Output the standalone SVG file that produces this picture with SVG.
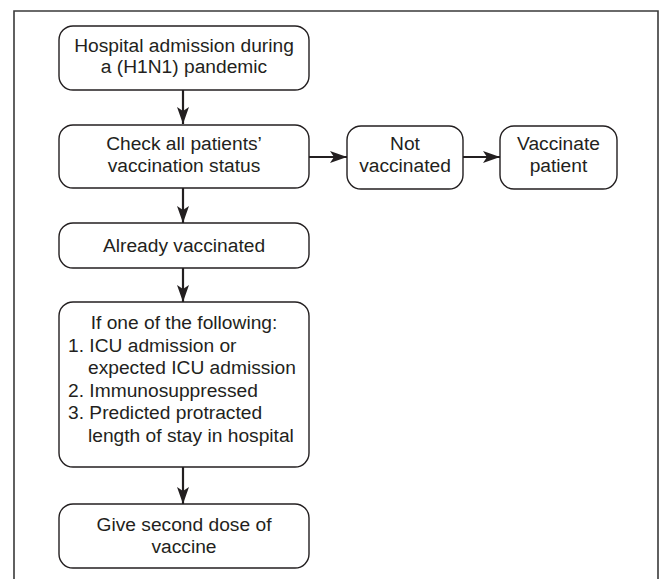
<svg xmlns="http://www.w3.org/2000/svg" width="660" height="579" viewBox="0 0 660 579">
<defs>
<style>
.box{fill:#fff;stroke:#231f20;stroke-width:1.4}
.t{font-family:"Liberation Sans",Arial,sans-serif;font-size:19.2px;fill:#231f20}
.c{text-anchor:middle}
.ln{stroke:#231f20;stroke-width:2.2;fill:none}
.frame{stroke:#3a3a3a;stroke-width:1.6;fill:none}
</style>
<marker id="ah" viewBox="0 0 17 12" refX="17" refY="6" markerWidth="17" markerHeight="12" markerUnits="userSpaceOnUse" orient="auto">
<path d="M0,0 L17,6 L0,12 L4,6 Z" fill="#231f20"/>
</marker>
</defs>
<rect width="660" height="579" fill="#fff"/>
<path class="frame" d="M14,579 V11 H658 V579"/>
<g id="connectors">
<line class="ln" x1="183" y1="90" x2="183" y2="124" marker-end="url(#ah)"/>
<line class="ln" x1="309" y1="157" x2="347" y2="157" marker-end="url(#ah)"/>
<line class="ln" x1="463" y1="157" x2="500" y2="157" marker-end="url(#ah)"/>
<line class="ln" x1="183" y1="188" x2="183" y2="223" marker-end="url(#ah)"/>
<line class="ln" x1="183" y1="268" x2="183" y2="302" marker-end="url(#ah)"/>
<line class="ln" x1="183" y1="467" x2="183" y2="504" marker-end="url(#ah)"/>
</g>
<g id="n1">
<rect class="box" x="59" y="26" width="250" height="64" rx="14"/>
<text class="t c" x="184" y="52">Hospital admission during</text>
<text class="t c" x="184" y="73">a (H1N1) pandemic</text>
</g>
<g id="n2">
<rect class="box" x="59" y="125" width="250" height="63" rx="14"/>
<text class="t c" x="184" y="150">Check all patients’</text>
<text class="t c" x="184" y="172">vaccination status</text>
</g>
<g id="n3">
<rect class="box" x="347" y="126" width="116" height="63" rx="14"/>
<text class="t c" x="405" y="150">Not</text>
<text class="t c" x="405" y="172">vaccinated</text>
</g>
<g id="n4">
<rect class="box" x="500" y="126" width="117" height="63" rx="14"/>
<text class="t c" x="558.5" y="150">Vaccinate</text>
<text class="t c" x="558.5" y="172">patient</text>
</g>
<g id="n5">
<rect class="box" x="59" y="223" width="250" height="45" rx="14"/>
<text class="t c" x="184" y="252">Already vaccinated</text>
</g>
<g id="n6">
<rect class="box" x="59" y="302" width="250" height="165" rx="14"/>
<text class="t c" x="184" y="329">If one of the following:</text>
<text class="t" x="68" y="352">1. ICU admission or</text>
<text class="t" x="88" y="374">expected ICU admission</text>
<text class="t" x="68" y="397">2. Immunosuppressed</text>
<text class="t" x="68" y="419">3. Predicted protracted</text>
<text class="t" x="88" y="442">length of stay in hospital</text>
</g>
<g id="n7">
<rect class="box" x="59" y="504" width="250" height="64" rx="14"/>
<text class="t c" x="184" y="531">Give second dose of</text>
<text class="t c" x="184" y="553">vaccine</text>
</g>
</svg>
